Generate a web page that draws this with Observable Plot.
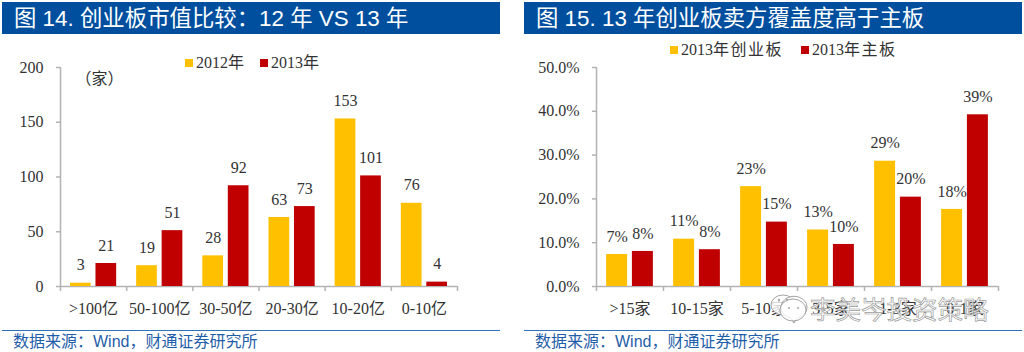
<!DOCTYPE html>
<html><head><meta charset="utf-8">
<script src="https://cdn.jsdelivr.net/npm/d3@7"></script>
<script src="https://cdn.jsdelivr.net/npm/@observablehq/plot@0.6"></script>
<style>
html,body{margin:0;padding:0;background:#fff;}
#page{position:relative;width:1024px;height:352px;overflow:hidden;background:#fff;}
.panel{position:absolute;top:0;width:512px;height:352px;}
.head{position:absolute;top:2px;height:32px;background:#004f9f;color:#fff;font:22.4px/33px "Liberation Sans","Noto Sans CJK SC",sans-serif;white-space:pre;box-sizing:border-box;}
.rule{position:absolute;top:330px;height:1px;background:#2f74b8;}
.src{position:absolute;top:333px;color:#1f5ea8;font:16px/18px "Liberation Sans","Noto Sans CJK SC",sans-serif;white-space:pre;}
.plot{position:absolute;left:0;top:40px;}
.leg{position:absolute;height:18px;font:16px/18px "Liberation Serif","Noto Sans CJK SC",serif;color:#333;white-space:pre;}
.leg i{display:inline-block;width:8px;height:8px;margin-right:3px;vertical-align:1px;}
.mark{position:absolute;left:810px;top:293px;font:25.5px/30px "Noto Sans CJK SC",sans-serif;color:rgba(255,255,255,.75);-webkit-text-stroke:.7px rgba(125,125,125,.8);white-space:pre;}
.bubble{position:absolute;left:769px;top:291px;}
</style></head><body>
<div id="page"></div>
<script>
const SERIF='"Liberation Serif","Noto Sans CJK SC",serif';
const YELLOW='#ffc000', RED='#c00000', AXIS='#b3b3b3', INK='#333333';

const capCats=['>100亿','50-100亿','30-50亿','20-30亿','10-20亿','0-10亿'];
const cap2012=[3,19,28,63,153,76];
const cap2013=[21,51,92,73,101,4];
const capTicks=[0,50,100,150,200];

const covCats=['>15家','10-15家','5-10家','3-5家','1-3家','0-1家'];
const covGem=[7.3,10.8,22.8,12.9,28.6,17.6];
const covMain=[8.0,8.4,14.7,9.6,20.4,39.2];
const covTicks=[0,10,20,30,40,50];

function chart({cats,a,b,ticks,yMax,fmtTick,fmtLabel,left,right,note}){
  const W=512,H=300;
  const rows=(vals,s)=>vals.map((v,i)=>({i,v,x1:i+(s?0.536:0.151),x2:i+(s?0.849:0.464)}));
  const A=rows(a,0),B=rows(b,1);
  const label=(data)=>Plot.text(data,{x:d=>(d.x1+d.x2)/2,y:'v',text:d=>fmtLabel(d.v),dy:-18,fontSize:16,fill:INK,fontFamily:SERIF});
  const marks=[
    Plot.axisY({ticks,tickSize:4,tickPadding:13,tickFormat:fmtTick,stroke:AXIS,strokeWidth:1.5,strokeOpacity:1,fontSize:16,fill:INK,fontFamily:SERIF,label:null,marginLeft:left}),
    Plot.axisX({ticks:d3.range(cats.length+1),tickSize:5,tickFormat:()=>'',stroke:AXIS,strokeWidth:1.5,strokeOpacity:1,label:null}),
    Plot.axisX({ticks:cats.map((c,i)=>i+.5),tickSize:0,tickPadding:16,tickFormat:d=>cats[Math.floor(d)],fontSize:16,fill:INK,fontFamily:SERIF,label:null}),
    Plot.ruleX([0],{stroke:AXIS,strokeWidth:1.5}),
    Plot.ruleY([0],{stroke:AXIS,strokeWidth:1.5}),
    Plot.rectY(A,{x1:'x1',x2:'x2',y:'v',fill:YELLOW}),
    Plot.rectY(B,{x1:'x1',x2:'x2',y:'v',fill:RED}),
    label(A),label(B)
  ];
  if(note) marks.push(Plot.text([note],{frameAnchor:'top-left',dx:15,dy:5,textAnchor:'start',fontSize:16,fill:INK,fontFamily:SERIF}));
  return Plot.plot({
    width:W,height:H,marginLeft:left,marginRight:W-right,marginTop:27,marginBottom:54,
    style:{background:'transparent',overflow:'visible'},
    x:{type:'linear',domain:[0,cats.length],axis:null},
    y:{domain:[0,yMax],axis:null},
    marks
  });
}

function panel(offset,opts){
  const p=document.createElement('div');p.className='panel';p.style.left=offset+'px';
  const h=document.createElement('div');h.className='head';h.style.left=opts.hx+'px';h.style.width=opts.hw+'px';h.style.paddingLeft=opts.pad+'px';h.textContent=opts.title;p.appendChild(h);
  const plot=chart(opts.chart);plot.classList.add('plot');p.appendChild(plot);
  opts.legend.forEach(([y,name,color,x])=>{
    const l=document.createElement('div');l.className='leg';l.style.left=x+'px';l.style.top=opts.legTop+'px';
    l.innerHTML='<i style="background:'+color+'"></i>'+y+'<span style="letter-spacing:'+opts.legSpace+'px">'+name+'</span>';p.appendChild(l);
  });
  const r=document.createElement('div');r.className='rule';r.style.left=opts.hx+'px';r.style.width=opts.hw+'px';p.appendChild(r);
  const s=document.createElement('div');s.className='src';s.style.left=opts.hx+11+'px';s.textContent='数据来源：Wind，财通证券研究所';p.appendChild(s);
  document.getElementById('page').appendChild(p);
}

panel(0,{title:'图 14. 创业板市值比较：12 年 VS 13 年',hx:2,hw:498,pad:12,legTop:54,legSpace:0,
  legend:[['2012','年',YELLOW,185],['2013','年',RED,260]],
  chart:{cats:capCats,a:cap2012,b:cap2013,ticks:capTicks,yMax:200,fmtTick:d=>d,fmtLabel:d=>d,left:60,right:457,note:'（家）'}});
panel(512,{title:'图 15. 13 年创业板卖方覆盖度高于主板',hx:12,hw:498,pad:12,legTop:41,legSpace:1.5,
  legend:[['2013','年创业板',YELLOW,158],['2013','年主板',RED,289]],
  chart:{cats:covCats,a:covGem,b:covMain,ticks:covTicks,yMax:50,fmtTick:d=>d.toFixed(1)+'%',fmtLabel:d=>Math.round(d)+'%',left:84,right:486}});

const page=document.getElementById('page');
const ns='http://www.w3.org/2000/svg';
const b=document.createElementNS(ns,'svg');b.setAttribute('class','bubble');b.setAttribute('width','40');b.setAttribute('height','36');
b.innerHTML='<g fill="rgba(255,255,255,.8)" stroke="rgba(140,140,140,.8)" stroke-width="1"><ellipse cx="14" cy="14" rx="12" ry="10"/><path d="M24 32 l-3 -5 a13 11 0 1 1 6 0 z" transform="translate(1,0)"/><ellipse cx="24" cy="19" rx="13" ry="11"/></g><g fill="#aaa"><circle cx="10" cy="9" r="1.2"/><circle cx="18" cy="9" r="1.2"/><circle cx="20" cy="17" r="1.1"/><circle cx="29" cy="17" r="1.1"/></g>';
page.appendChild(b);
const m=document.createElement('div');m.className='mark';m.textContent='李美岑投资策略';page.appendChild(m);
</script>
</body></html>
